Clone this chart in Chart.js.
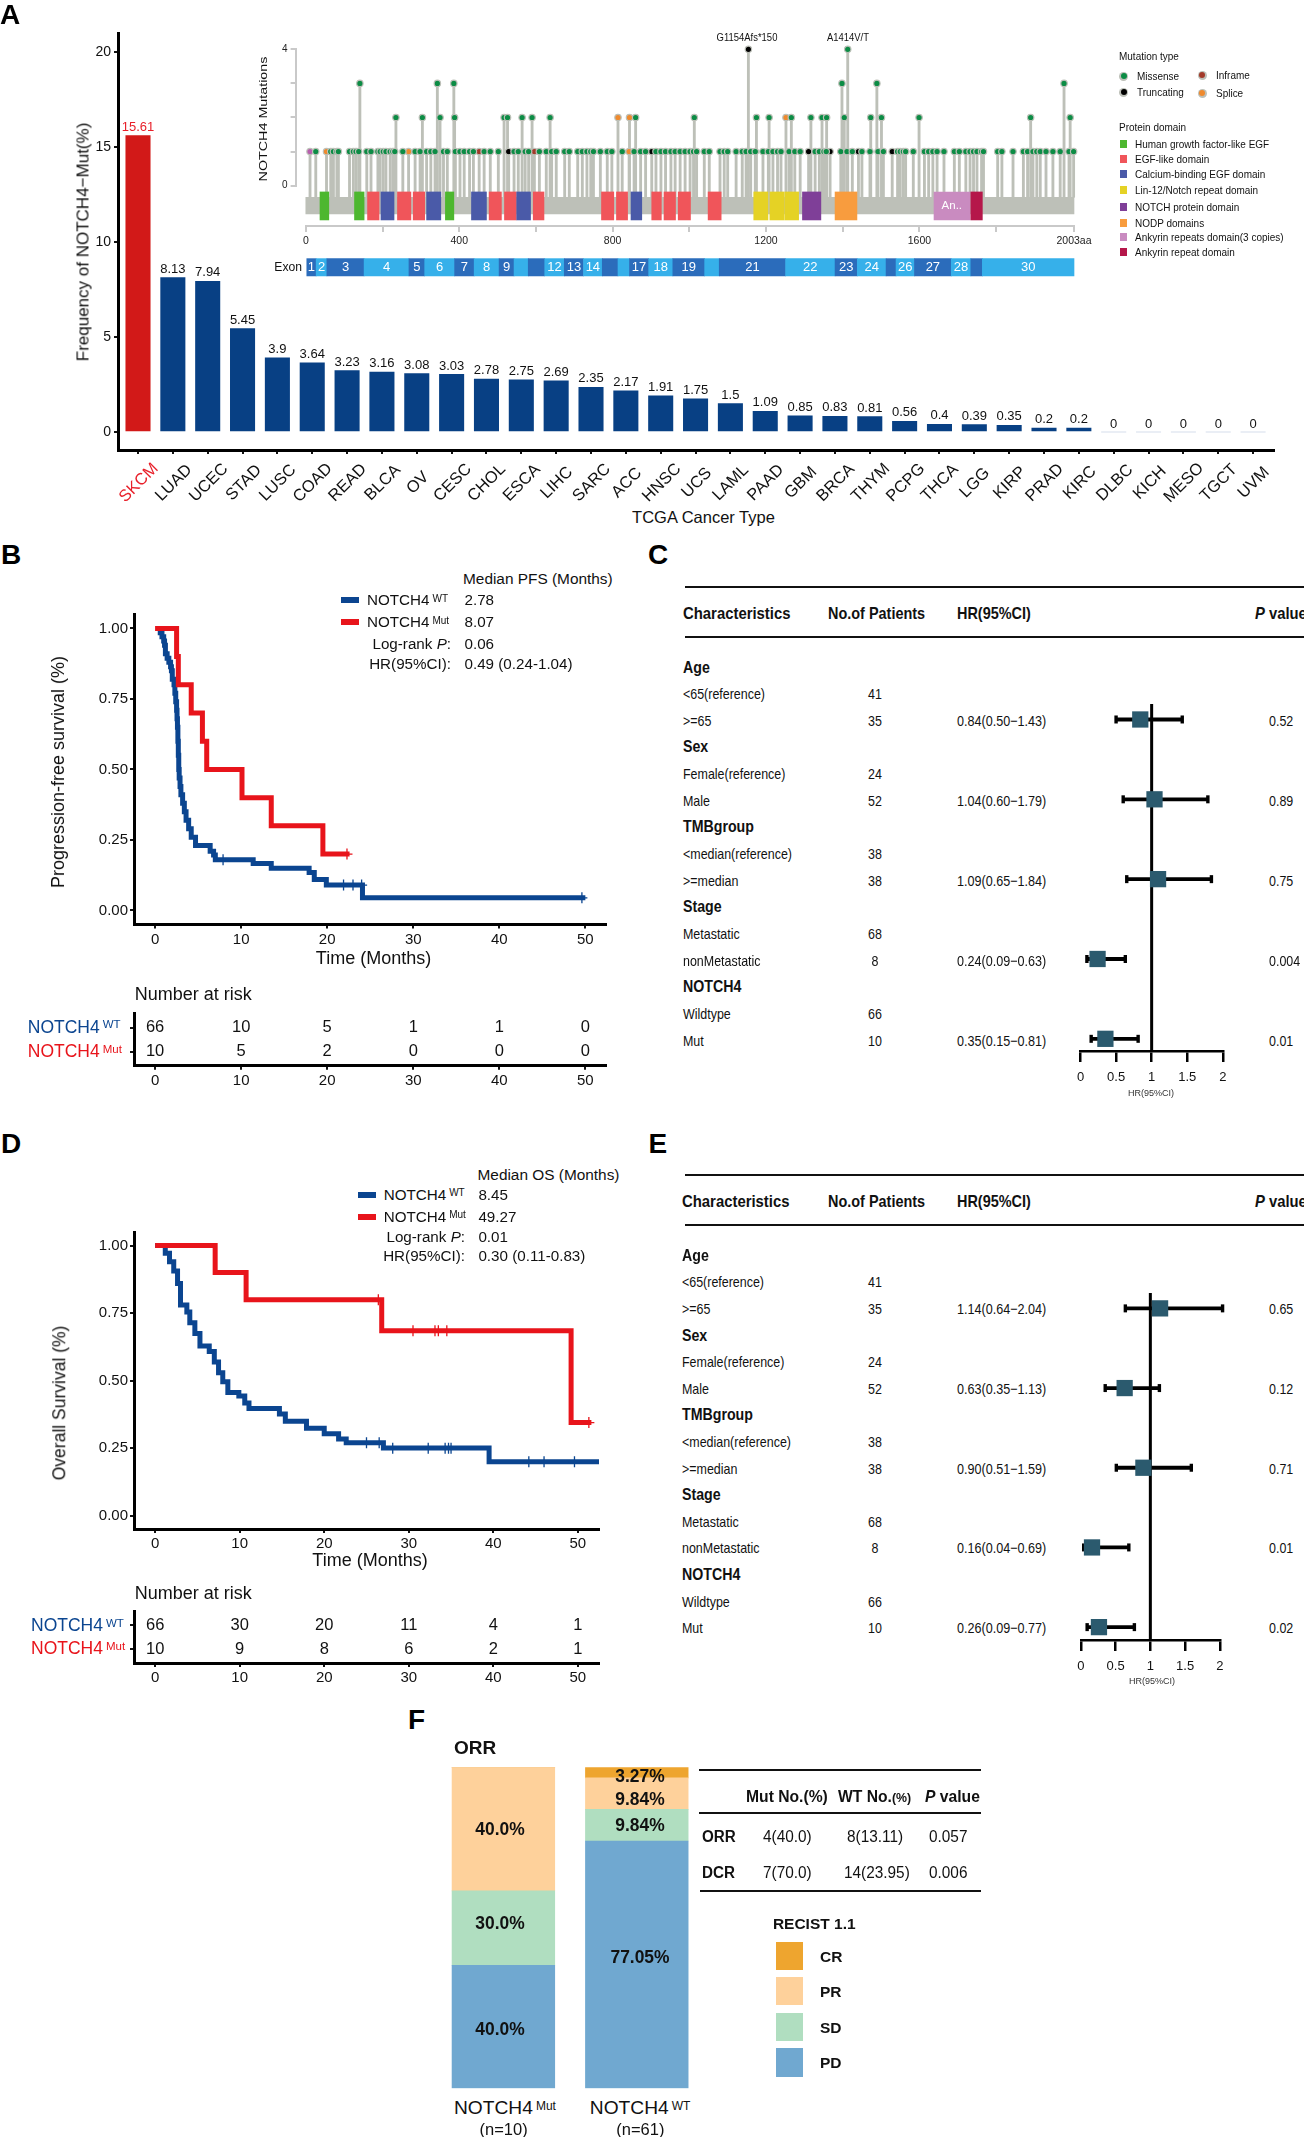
<!DOCTYPE html>
<html>
<head>
<meta charset="utf-8">
<title>NOTCH4 figure</title>
<script src="https://cdn.jsdelivr.net/npm/chart.js@4/dist/chart.umd.min.js"></script>
<style>
  html, body { margin: 0; background: #fff; }
  #page { position: relative; width: 1304px; height: 2137px; overflow: hidden; }
  #page canvas { position: absolute; }
  #page span.t { position: absolute; white-space: nowrap; line-height: 1; }
  #page div.r { position: absolute; }
</style>
</head>
<body>
<div id="page"></div>
<script>
// --- panel A: frequency bars
const cancerTypes = ['SKCM','LUAD','UCEC','STAD','LUSC','COAD','READ','BLCA','OV','CESC','CHOL','ESCA','LIHC','SARC','ACC','HNSC','UCS','LAML','PAAD','GBM','BRCA','THYM','PCPG','THCA','LGG','KIRP','PRAD','KIRC','DLBC','KICH','MESO','TGCT','UVM'];
const mutFrequency = [15.61,8.13,7.94,5.45,3.9,3.64,3.23,3.16,3.08,3.03,2.78,2.75,2.69,2.35,2.17,1.91,1.75,1.5,1.09,0.85,0.83,0.81,0.56,0.4,0.39,0.35,0.2,0.2,0,0,0,0,0];
const freqTicks = [0,5,10,15,20];

// --- panel A inset: lollipops, one list per mutation type and height
const missense1 = [26,65,72,81,85,114,124,131,138,159,170,188,194,202,209,220,227,232,253,285,298,315,326,337,359,369,390,402,413,427,437,465,481,502,543,554,572,581,609,627,641,653,
  675,687,709,721,733,743,750,768,786,798,825,856,873,886,913,926,938,952,963,976,989,1002,1011,1019,1039,1052,1080,1091,1100,1122,1138,1148,1160,1172,1192,1206,1218,1230,1239,1260,1275,1289,1328,1339,
  1351,1357,1395,1411,1425,1450,1471,1492,1506,1543,1550,1558,1564,1584,1613,1624,1635,1646,1664,1691,1704,1721,1732,1741,1750,1762,1767,1804,1815,1844,1871,1882,1896,1906,1915,1930,1948,1967,1990,2002];
const missense2 = [235,304,350,388,517,526,564,590,637,860,1013,1175,1208,1266,1317,1346,1358,1404,1473,1501,1599,1890,1993];
const missense3 = [141,343,386,1398,1489,1977];
const missense4 = [1413];
const truncatingPos = [529,902,1154,1311,1367,1441,1529];
const truncatingCount = [1,1,4,1,1,1,1];
const splicePos = [54,268,814,843,844,1252];
const spliceCount = [1,1,2,1,2,2];
const inframePos = [452,596];
const inframeCount = [1,1];
const otherPos = [11];
const otherCount = [1];
const proteinLength = 2003;
const domainStart = [37,127,161,196,239,280,315,364,432,478,518,550,593,771,810,848,902,934,971,1049,1168,1210,1249,1295,1380,1638,1734];
const domainEnd = [60,152,191,230,274,310,352,386,471,510,549,586,621,803,839,876,927,964,1003,1083,1205,1247,1285,1343,1437,1732,1764];
const domainType = ['hgf','hgf','egf','ca','egf','egf','ca','hgf','ca','egf','egf','ca','egf','egf','egf','ca','egf','egf','egf','egf','lin','lin','lin','notch','nodp','ank3','ank'];
const exonEnds = [27,55,152,269,310,388,439,504,543,580,623,674,724,773,814,844,894,957,1040,1078,1251,1380,1438,1513,1539,1587,1683,1734,1764,2003];
const exonLabels = ['1','2','3','4','5','6','7','8','9','','','12','13','14','','','17','18','19','','21','22','23','24','','26','27','28','','30'];

// --- panel B: progression-free survival
const pfsWtTime = [0.4,0.6,0.8,1.0,1.1,1.2,1.4,1.6,1.8,1.9,2.0,2.2,2.3,2.4,2.5,2.55,2.6,2.65,2.7,2.75,2.8,2.9,3.0,3.2,3.4,3.6,3.9,4.2,4.7,6.4,6.8,7.0,11.4,13.5,17.9,18.5,19.9,24.1,50];
const pfsWtSurv = [1,0.985,0.97,0.955,0.94,0.91,0.894,0.88,0.864,0.85,0.82,0.8,0.77,0.74,0.71,0.68,0.65,0.6,0.55,0.5,0.47,0.44,0.41,0.38,0.35,0.32,0.29,0.26,0.23,0.21,0.197,0.18,0.167,0.15,0.135,0.11,0.09,0.045,0.045];
const pfsWtCensorTime = [7.9,21.9,23,24,49.6];
const pfsWtCensorSurv = [0.18,0.09,0.09,0.09,0.045];
const pfsMutTime = [0,2.5,2.7,4.2,5.5,6,10.1,13.5,19.5,22.6];
const pfsMutSurv = [1,0.9,0.8,0.7,0.6,0.5,0.4,0.3,0.2,0.2];
const pfsMutCensorTime = [22.3];
const pfsMutCensorSurv = [0.2];
const pfsRiskWt = [66,10,5,1,1,0];
const pfsRiskMut = [10,5,2,0,0,0];

// --- panel D: overall survival
const osWtTime = [0,1.2,1.7,2.2,2.65,3,3.75,4.1,4.7,5.3,6.4,7,7.5,8,8.6,9.9,10.6,11.1,14.7,15.4,17.9,20,21.7,22.6,27,39.5,52.5];
const osWtSurv = [1,0.972,0.94,0.906,0.86,0.78,0.754,0.714,0.675,0.628,0.608,0.569,0.529,0.496,0.456,0.443,0.417,0.397,0.377,0.35,0.324,0.304,0.284,0.27,0.251,0.2,0.2];
const osWtCensorTime = [25,26.5,28.1,32.3,34.3,34.7,35,44.2,46,49.6];
const osWtCensorSurv = [0.27,0.27,0.25,0.25,0.25,0.25,0.25,0.2,0.2,0.2];
const osMutTime = [0,7.1,10.76,26.8,49.2,51.6];
const osMutSurv = [1,0.9,0.8,0.685,0.345,0.345];
const osMutCensorTime = [26.4,30.5,33.1,33.5,34.5,51.3];
const osMutCensorSurv = [0.8,0.685,0.685,0.685,0.685,0.345];
const osRiskWt = [66,30,20,11,4,1];
const osRiskMut = [10,9,8,6,2,1];
const riskTimes = [0,10,20,30,40,50];
const survivalTicks = [0,0.25,0.5,0.75,1];

// --- panels C and E: cox tables
const coxLabels = ['Age','<65(reference)','>=65','Sex','Female(reference)','Male','TMBgroup','<median(reference)','>=median','Stage','Metastatic','nonMetastatic','NOTCH4','Wildtype','Mut'];
const coxPatients = ['', '41', '35', '', '24', '52', '', '38', '38', '', '68', '8', '', '66', '10'];
const coxRows = [2,5,8,11,14];
const pfsHr = [0.84,1.04,1.09,0.24,0.35];
const pfsLow = [0.50,0.60,0.65,0.09,0.15];
const pfsHigh = [1.43,1.79,1.84,0.63,0.81];
const pfsP = ['0.52','0.89','0.75','0.004','0.01'];
const osHr = [1.14,0.63,0.90,0.16,0.26];
const osLow = [0.64,0.35,0.51,0.04,0.09];
const osHigh = [2.04,1.13,1.59,0.69,0.77];
const osP = ['0.65','0.12','0.71','0.01','0.02'];
const hrTicks = [0,0.5,1,1.5,2];

// --- panel F: response stacks
const recistGroups = ['NOTCH4 Mut','NOTCH4 WT'];
const recistPD = [38.3,77.05];
const recistSD = [23.2,9.84];
const recistPR = [38.5,9.84];
const recistCR = [0,3.27];

const FONT = '"Liberation Sans", Arial, sans-serif';
const BLUE = '#0b4590', RED = '#e8141b', NAVY = '#084084', GREY = '#bdc0b8', TEAL = '#2b5a6e';
const RECIST = { CR: '#eea52f', PR: '#fed19b', SD: '#b0dec0', PD: '#70a8d0' };
const DOMAIN = { hgf: '#4db72f', egf: '#f0555a', ca: '#4a5aa8', lin: '#e5d225', notch: '#7f3f98', nodp: '#f89c3e', ank3: '#c98bc0', ank: '#b5174a' };

Chart.defaults.font.family = FONT;
Chart.defaults.animation = false;
Chart.defaults.responsive = false;
Chart.defaults.plugins.legend.display = false;
Chart.defaults.plugins.tooltip.enabled = false;

const page = document.getElementById('page');

function label(x, y, html, o = {}) {
    const el = document.createElement('span');
    el.className = 't';
    el.innerHTML = html;
    const ax = o.anchor === 'middle' ? 50 : o.anchor === 'end' ? 100 : 0;
    el.style.left = x + 'px';
    el.style.top = y + 'px';
    el.style.fontFamily = FONT;
    el.style.fontSize = (o.size || 14) + 'px';
    el.style.fontWeight = o.weight || 400;
    el.style.color = o.color || '#111';
    el.style.transformOrigin = `${ax}% 50%`;
    el.style.transform = `translate(${-ax}%, -50%) rotate(${o.rotate || 0}deg) scaleX(${o.sx || 1})`;
    page.appendChild(el);
    return el;
}

function block(x, y, w, h, color, round) {
    const el = document.createElement('div');
    el.className = 'r';
    el.style.cssText = `left:${x}px;top:${y}px;width:${w}px;height:${h}px;background:${color};` + (round ? 'border-radius:50%;' : '');
    page.appendChild(el);
}

const sup = (text, size) => `<span style="font-size:${size}px;position:relative;top:${-size * 0.35}px;margin-left:3px">${text}</span>`;

// every chart gets an exact plot area; box and area are page pixels
function makeChart(box, area, config) {
    const [bx, by, bw, bh] = box;
    const [left, top, right, bottom] = area;
    const canvas = document.createElement('canvas');
    canvas.width = bw;
    canvas.height = bh;
    canvas.style.left = bx + 'px';
    canvas.style.top = by + 'px';
    page.appendChild(canvas);
    const opts = config.options;
    opts.layout = { autoPadding: false, padding: { left: 0, top: top - by, right: bx + bw - right, bottom: 0 } };
    opts.scales.x.afterFit = s => { s.height = by + bh - bottom; };
    opts.scales.y.afterFit = s => { s.width = left - bx; };
    const chart = new Chart(canvas, config);
    chart.pageX = bx;
    chart.pageY = by;
    return chart;
}

const setTicks = values => s => { s.ticks = values.map(value => ({ value })); };
const zip = (xs, ys) => xs.map((x, i) => ({ x, y: ys[i] }));

// ---------- panel A bars
const valueLabels = {
    id: 'valueLabels',
    afterDatasetsDraw(chart) {
        const ctx = chart.ctx;
        ctx.save();
        ctx.font = `13px ${FONT}`;
        ctx.textAlign = 'center';
        ctx.textBaseline = 'bottom';
        chart.getDatasetMeta(0).data.forEach((bar, i) => {
            ctx.fillStyle = i === 0 ? '#e8202a' : '#111';
            ctx.fillText(String(mutFrequency[i]), bar.x, bar.y - 2);
        });
        ctx.restore();
    }
};

const freqChart = makeChart([0, 0, 1304, 470], [118, 33.7, 1274, 450], {
    type: 'bar',
    data: {
        datasets: [{
            data: zip(cancerTypes.map((c, i) => i), mutFrequency),
            backgroundColor: mutFrequency.map((v, i) => i === 0 ? '#d21918' : v === 0 ? '#e3e9f2' : NAVY),
            barThickness: 24.4,
            minBarLength: 1
        }]
    },
    options: {
        scales: {
            x: {
                type: 'linear', min: -0.574, max: 32.6, offset: false,
                afterBuildTicks: setTicks(cancerTypes.map((c, i) => i)),
                grid: { offset: false, drawOnChartArea: false, color: '#111', lineWidth: 2, tickLength: 4 },
                border: { color: '#000', width: 3 },
                ticks: { display: false }
            },
            y: {
                min: -0.95, max: 20.98,
                afterBuildTicks: setTicks(freqTicks),
                grid: { drawOnChartArea: false, color: '#111', lineWidth: 2, tickLength: 4 },
                border: { color: '#000', width: 3 },
                ticks: { color: '#111', font: { size: 14 }, padding: 3, callback: v => String(v) }
            }
        }
    },
    plugins: [valueLabels]
});

cancerTypes.forEach((c, i) => {
    label(freqChart.scales.x.getPixelForValue(i), 482, c, { size: 16.5, anchor: 'middle', rotate: -45, color: i === 0 ? '#e8202a' : '#111' });
});
label(82.5, 242, 'Frequency of NOTCH4\u2212Mut(%)', { size: 17, anchor: 'middle', rotate: -90 });
label(703.5, 517, 'TCGA Cancer Type', { size: 16.5, anchor: 'middle' });

// ---------- panel A inset, lollipops
const STEM_BASE = -0.34;
const mutationPoints = (pos, count) => pos.map((x, i) => ({ x, y: count[i] }));
const missensePoints = [
    ...missense1.map(x => ({ x, y: 1 })),
    ...missense2.map(x => ({ x, y: 2 })),
    ...missense3.map(x => ({ x, y: 3 })),
    ...missense4.map(x => ({ x, y: 4 }))
];
const mutationSets = [
    { points: missensePoints, color: '#0c8c45' },
    { points: mutationPoints(truncatingPos, truncatingCount), color: '#000000' },
    { points: mutationPoints(splicePos, spliceCount), color: '#ef8a2e' },
    { points: mutationPoints(inframePos, inframeCount), color: '#a33a2a' },
    { points: mutationPoints(otherPos, otherCount), color: '#b85fae' }
];
const stems = mutationSets.flatMap(s => s.points).map(p => ({ x: p.x, y: [STEM_BASE, p.y] }));

makeChart([240, 40, 860, 190], [295.6, 49.3, 1074, 185.7], {
    type: 'bar',
    data: {
        datasets: [
            ...mutationSets.map(s => ({
                type: 'scatter', data: s.points, order: 1, clip: false,
                backgroundColor: s.color, borderColor: GREY, borderWidth: 1.2, pointRadius: 3.2
            })),
            { data: stems, order: 4, clip: false, grouped: false, barThickness: 2.2, backgroundColor: GREY },
            {
                indexAxis: 'y', order: 2, clip: false, grouped: false, barThickness: 28,
                data: domainStart.map((s, i) => ({ x: [s, domainEnd[i]], y: -0.594 })),
                backgroundColor: domainType.map(t => DOMAIN[t])
            },
            {
                indexAxis: 'y', order: 3, clip: false, grouped: false, barThickness: 16.7,
                data: [{ x: [0, proteinLength], y: -0.585 }], backgroundColor: GREY
            }
        ]
    },
    options: {
        scales: {
            x: { type: 'linear', min: -26.6, max: proteinLength, display: false, offset: false, grid: { offset: false } },
            y: {
                type: 'linear', min: 0, max: 4, offset: false,
                afterBuildTicks: setTicks([0, 1, 2, 3, 4]),
                grid: { offset: false, drawOnChartArea: false, color: '#c9c9c9', lineWidth: 2, tickLength: 5 },
                border: { color: '#c9c9c9', width: 2 },
                ticks: { color: '#222', font: { size: 10 }, padding: 3, callback: v => (v === 0 || v === 4) ? String(v) : '' }
            }
        }
    }
});

// inset protein ruler and exon strip
const exonText = {
    id: 'exonText',
    afterDatasetsDraw(chart) {
        const ctx = chart.ctx;
        ctx.save();
        ctx.font = `13px ${FONT}`;
        ctx.fillStyle = '#fff';
        ctx.textAlign = 'center';
        ctx.textBaseline = 'middle';
        chart.getDatasetMeta(0).data.forEach((bar, i) => {
            const c = bar.getCenterPoint();
            ctx.fillText(exonLabels[i], c.x, c.y);
        });
        ctx.restore();
    }
};
makeChart([240, 200, 860, 80], [305.8, 210, 1074, 226], {
    type: 'bar',
    data: {
        datasets: [{
            indexAxis: 'y', clip: false, barThickness: 17.3,
            data: exonEnds.map((end, i) => ({ x: [i === 0 ? 0 : exonEnds[i - 1], end], y: -2.58 })),
            backgroundColor: exonEnds.map((e, i) => i % 2 === 0 ? '#2b6cbb' : '#36b0ea')
        }]
    },
    options: {
        scales: {
            x: {
                type: 'linear', min: 0, max: proteinLength, offset: false,
                afterBuildTicks: setTicks([0, 200, 400, 600, 800, 1000, 1200, 1400, 1600, 1800, 2003]),
                grid: { offset: false, drawOnChartArea: false, color: '#c9c9c9', lineWidth: 2, tickLength: 6 },
                border: { color: '#c9c9c9', width: 2 },
                ticks: {
                    color: '#222', font: { size: 10.5 }, padding: 3, maxRotation: 0, autoSkip: false,
                    callback: v => v === proteinLength ? '2003aa' : ([0, 400, 800, 1200, 1600].includes(v) ? String(v) : '')
                }
            },
            y: { type: 'linear', min: 0, max: 1, display: false, offset: false, grid: { offset: false } }
        }
    },
    plugins: [exonText]
});

label(262.5, 119, 'NOTCH4 Mutations', { size: 11, anchor: 'middle', rotate: -90, sx: 1.3 });
label(747, 36.7, 'G1154Afs*150', { size: 10.5, anchor: 'middle', sx: 0.9 });
label(847.7, 36.7, 'A1414V/T', { size: 10.5, anchor: 'middle', sx: 0.9 });
label(301.5, 266.7, 'Exon', { size: 13.5, anchor: 'end', sx: 0.9 });
label(951.8, 206, 'An..', { size: 11.5, anchor: 'middle', color: '#fff' });

label(1119, 56, 'Mutation type', { size: 10.5, sx: 0.95 });
[[1123.5, 76, 1137, 'Missense', '#0c8c45'], [1202, 75, 1216, 'Inframe', '#a33a2a'], [1123.5, 92, 1137, 'Truncating', '#000'], [1202, 93, 1216, 'Splice', '#ef8a2e']].forEach(([dx, y, tx, name, color]) => {
    block(dx - 4.5, y - 4.5, 9, 9, GREY, true);
    block(dx - 3, y - 3, 6, 6, color, true);
    label(tx, y, name, { size: 10.5, sx: 0.95 });
});
label(1119, 127, 'Protein domain', { size: 10.5, sx: 0.95 });
[['Human growth factor-like EGF', 'hgf', 144], ['EGF-like domain', 'egf', 159], ['Calcium-binding EGF domain', 'ca', 174], ['Lin-12/Notch repeat domain', 'lin', 190],
 ['NOTCH protein domain', 'notch', 207], ['NODP domains', 'nodp', 223], ['Ankyrin repeats domain(3 copies)', 'ank3', 237], ['Ankyrin repeat domain', 'ank', 252]].forEach(([name, kind, y]) => {
    block(1120, y - 4, 7, 8, DOMAIN[kind]);
    label(1135, y, name, { size: 10.5, sx: 0.95 });
});

// ---------- survival panels
function survivalChart(box, area, xRange, yRange, wt, mut) {
    return makeChart(box, area, {
        type: 'line',
        data: {
            datasets: [
                { data: zip(wt.time, wt.surv), stepped: true, borderColor: BLUE, borderWidth: 5, pointRadius: 0, order: 3, clip: false },
                { type: 'scatter', data: zip(wt.censorTime, wt.censorSurv), pointStyle: 'cross', pointRadius: 5.5, borderWidth: 1.3, borderColor: BLUE, order: 2, clip: false },
                { data: zip(mut.time, mut.surv), stepped: true, borderColor: RED, borderWidth: 5, pointRadius: 0, order: 1, clip: false },
                { type: 'scatter', data: zip(mut.censorTime, mut.censorSurv), pointStyle: 'cross', pointRadius: 5.5, borderWidth: 1.3, borderColor: RED, order: 0, clip: false }
            ]
        },
        options: {
            scales: {
                x: {
                    type: 'linear', min: xRange[0], max: xRange[1],
                    afterBuildTicks: setTicks(riskTimes),
                    grid: { drawOnChartArea: false, color: '#111', lineWidth: 2, tickLength: 4 },
                    border: { color: '#000', width: 3 },
                    ticks: { color: '#111', font: { size: 15 }, padding: 2, maxRotation: 0, callback: v => String(v) }
                },
                y: {
                    min: yRange[0], max: yRange[1],
                    afterBuildTicks: setTicks(survivalTicks),
                    grid: { drawOnChartArea: false, color: '#111', lineWidth: 2, tickLength: 4 },
                    border: { color: '#000', width: 3 },
                    ticks: { color: '#111', font: { size: 15 }, padding: 2, callback: v => v.toFixed(2) }
                }
            }
        }
    });
}

function riskChart(box, area, xRange, yRange, wtRisk, mutRisk) {
    const riskText = {
        id: 'riskText',
        afterDatasetsDraw(chart) {
            const ctx = chart.ctx;
            ctx.save();
            ctx.font = `16.5px ${FONT}`;
            ctx.fillStyle = '#111';
            ctx.textAlign = 'center';
            ctx.textBaseline = 'middle';
            chart.data.datasets.forEach(ds => ds.data.forEach(p => {
                ctx.fillText(String(p.n), chart.scales.x.getPixelForValue(p.x), chart.scales.y.getPixelForValue(p.y));
            }));
            ctx.restore();
        }
    };
    return makeChart(box, area, {
        type: 'scatter',
        data: {
            datasets: [
                { data: riskTimes.map((t, i) => ({ x: t, y: 1, n: wtRisk[i] })), pointRadius: 0 },
                { data: riskTimes.map((t, i) => ({ x: t, y: 0, n: mutRisk[i] })), pointRadius: 0 }
            ]
        },
        options: {
            scales: {
                x: {
                    type: 'linear', min: xRange[0], max: xRange[1],
                    afterBuildTicks: setTicks(riskTimes),
                    grid: { drawOnChartArea: false, color: '#111', lineWidth: 2, tickLength: 4 },
                    border: { color: '#000', width: 3 },
                    ticks: { color: '#111', font: { size: 15 }, padding: 2, maxRotation: 0, callback: v => String(v) }
                },
                y: {
                    min: yRange[0], max: yRange[1],
                    afterBuildTicks: setTicks([0, 1]),
                    grid: { drawOnChartArea: false, color: '#111', lineWidth: 2, tickLength: 4 },
                    border: { color: '#000', width: 3 },
                    ticks: { display: false }
                }
            }
        },
        plugins: [riskText]
    });
}

// panel B
survivalChart([0, 600, 640, 360], [134, 614.3, 606, 924.6], [-2.45, 52.4], [-0.05, 1.05],
    { time: pfsWtTime, surv: pfsWtSurv, censorTime: pfsWtCensorTime, censorSurv: pfsWtCensorSurv },
    { time: pfsMutTime, surv: pfsMutSurv, censorTime: pfsMutCensorTime, censorSurv: pfsMutCensorSurv });
riskChart([0, 1000, 640, 100], [134, 1013, 606, 1065.7], [-2.45, 52.4], [-0.58, 1.6], pfsRiskWt, pfsRiskMut);
label(58, 772, 'Progression-free survival (%)', { size: 18, anchor: 'middle', rotate: -90 });
label(373.5, 958, 'Time (Months)', { size: 18, anchor: 'middle' });
label(134.7, 993.6, 'Number at risk', { size: 18 });
label(463, 578.6, 'Median PFS (Months)', { size: 15.4 });
block(341, 597, 18, 5.5, BLUE);
block(341, 619.2, 18, 5.5, RED);
label(367, 600, 'NOTCH4' + sup('WT', 10), { size: 15.2 });
label(367, 622, 'NOTCH4' + sup('Mut', 10), { size: 15.2 });
label(464.5, 600, '2.78', { size: 15.2 });
label(464.5, 622, '8.07', { size: 15.2 });
label(451, 643.6, 'Log-rank <i>P</i>:', { size: 15.2, anchor: 'end' });
label(464.5, 643.6, '0.06', { size: 15.2 });
label(451, 664, 'HR(95%CI):', { size: 15.2, anchor: 'end' });
label(464.5, 664, '0.49 (0.24-1.04)', { size: 15.2 });
label(27.8, 1027.5, 'NOTCH4' + sup('WT', 11.5), { size: 17.5, color: BLUE });
label(27.8, 1051.8, 'NOTCH4' + sup('Mut', 11.5), { size: 17.5, color: RED });

// panel D
survivalChart([0, 1220, 640, 340], [134, 1232.9, 599, 1529], [-2.5, 52.5], [-0.049, 1.047],
    { time: osWtTime, surv: osWtSurv, censorTime: osWtCensorTime, censorSurv: osWtCensorSurv },
    { time: osMutTime, surv: osMutSurv, censorTime: osMutCensorTime, censorSurv: osMutCensorSurv });
riskChart([0, 1600, 640, 100], [134, 1611, 599, 1663], [-2.5, 52.5], [-0.57, 1.6], osRiskWt, osRiskMut);
label(60.4, 1403, 'Overall Survival (%)', { size: 17.5, anchor: 'middle', rotate: -90 });
label(370, 1560, 'Time (Months)', { size: 18, anchor: 'middle' });
label(134.7, 1593, 'Number at risk', { size: 18 });
label(477.5, 1175, 'Median OS (Months)', { size: 15.4 });
block(357.5, 1192, 18, 5.5, BLUE);
block(357.5, 1214, 18, 5.5, RED);
label(383.7, 1194.6, 'NOTCH4' + sup('WT', 10), { size: 15.2 });
label(383.7, 1216.8, 'NOTCH4' + sup('Mut', 10), { size: 15.2 });
label(478.4, 1194.6, '8.45', { size: 15.2 });
label(478.4, 1216.8, '49.27', { size: 15.2 });
label(465, 1237, 'Log-rank <i>P</i>:', { size: 15.2, anchor: 'end' });
label(478.4, 1237, '0.01', { size: 15.2 });
label(465, 1256.4, 'HR(95%CI):', { size: 15.2, anchor: 'end' });
label(478.4, 1256.4, '0.30 (0.11-0.83)', { size: 15.2 });
label(31, 1625.7, 'NOTCH4' + sup('WT', 11.5), { size: 17.5, color: BLUE });
label(31, 1649, 'NOTCH4' + sup('Mut', 11.5), { size: 17.5, color: RED });

// ---------- cox tables
function coxPanel(g, hr, low, high, pValues) {
    const rowY = i => g.firstRow + g.rowStep * i;
    block(684.5, g.rule1 - 1, 619.5, 2.4, '#111');
    block(684.5, g.rule2 - 1, 619.5, 2.4, '#111');
    label(g.textX, g.header, 'Characteristics', { size: 17, weight: 700, sx: 0.875 });
    label(827.6, g.header, 'No.of Patients', { size: 17, weight: 700, sx: 0.85 });
    label(957.2, g.header, 'HR(95%CI)', { size: 17, weight: 700, sx: 0.85 });
    label(1255, g.header, '<i>P</i> value', { size: 17, weight: 700, sx: 0.87 });
    coxLabels.forEach((name, i) => {
        const bold = coxPatients[i] === '';
        label(g.textX, rowY(i), name.replace('<', '&lt;'), bold ? { size: 16.5, weight: 700, sx: 0.86 } : { size: 15, sx: 0.83 });
        if (!bold) label(875, rowY(i), coxPatients[i], { size: 15, anchor: 'middle', sx: 0.83 });
    });
    coxRows.forEach((row, i) => {
        label(957.2, rowY(row), `${hr[i].toFixed(2)}(${low[i].toFixed(2)}\u2212${high[i].toFixed(2)})`, { size: 15, sx: 0.84 });
        label(g.pX, rowY(row), pValues[i], { size: 15, sx: 0.83 });
    });
    const yMin = (g.top - g.firstRow) / g.rowStep;
    const yMax = (g.axis - g.firstRow) / g.rowStep;
    makeChart([1060, g.top - 10, 190, g.axis - g.top + 50], [g.x0, g.top, g.x2, g.axis], {
        type: 'bar',
        data: {
            datasets: [
                { type: 'scatter', data: zip(hr, coxRows), pointStyle: 'rect', pointRadius: 11.5, backgroundColor: TEAL, borderWidth: 0, order: 0, clip: false },
                { type: 'scatter', data: zip(low.concat(high), coxRows.concat(coxRows)), pointStyle: 'line', rotation: 90, pointRadius: 4, borderWidth: 3.4, borderColor: '#000', order: 2, clip: false },
                { indexAxis: 'y', grouped: false, data: coxRows.map((r, i) => ({ x: [low[i], high[i]], y: r })), barThickness: 3.2, backgroundColor: '#000', order: 3, clip: false },
                { type: 'line', data: [{ x: 1, y: yMin }, { x: 1, y: yMax }], borderColor: '#000', borderWidth: 3, pointRadius: 0, order: 1, clip: false }
            ]
        },
        options: {
            scales: {
                x: {
                    type: 'linear', min: 0, max: 2, offset: false,
                    afterBuildTicks: setTicks(hrTicks),
                    grid: { offset: false, drawOnChartArea: false, color: '#000', lineWidth: 2.5, tickLength: 11 },
                    border: { color: '#000', width: 2.5 },
                    ticks: { color: '#111', font: { size: 13 }, padding: 8, maxRotation: 0, callback: v => String(v) }
                },
                y: { type: 'linear', min: yMin, max: yMax, reverse: true, display: false, offset: false, grid: { offset: false } }
            }
        }
    });
    label(g.titleX, g.title, 'HR(95%CI)', { size: 9.5, anchor: 'middle', color: '#333', sx: 0.95 });
}

coxPanel({ rule1: 586.5, rule2: 637, header: 613, textX: 682.8, pX: 1268.5, firstRow: 666.5, rowStep: 26.65, top: 704.3, axis: 1051.8, x0: 1080.5, x2: 1222.8, titleX: 1151, title: 1093 }, pfsHr, pfsLow, pfsHigh, pfsP);
coxPanel({ rule1: 1174.7, rule2: 1224.9, header: 1200.9, textX: 682.4, pX: 1269.4, firstRow: 1254.7, rowStep: 26.6, top: 1292.5, axis: 1640, x0: 1080.9, x2: 1219.8, titleX: 1151.6, title: 1681 }, osHr, osLow, osHigh, osP);

// ---------- panel F
makeChart([430, 1760, 280, 335], [436.7, 1767.3, 703.5, 2088.3], {
    type: 'bar',
    data: {
        labels: recistGroups,
        datasets: [
            { label: 'PD', data: recistPD, backgroundColor: RECIST.PD },
            { label: 'SD', data: recistSD, backgroundColor: RECIST.SD },
            { label: 'PR', data: recistPR, backgroundColor: RECIST.PR },
            { label: 'CR', data: recistCR, backgroundColor: RECIST.CR }
        ]
    },
    options: {
        datasets: { bar: { barThickness: 102.7 } },
        scales: {
            x: { stacked: true, display: false },
            y: { stacked: true, min: 0, max: 100, display: false }
        }
    }
});
[[500.4, 1829.3, '40.0%'], [500.4, 1923, '30.0%'], [500.4, 2029, '40.0%'], [639.6, 1776, '3.27%'], [639.6, 1799, '9.84%'], [639.6, 1825, '9.84%'], [639.6, 1956.7, '77.05%']].forEach(([x, y, text]) => {
    label(x, y, text, { size: 18.5, weight: 700, anchor: 'middle', sx: 0.94 });
});
label(454, 1747, 'ORR', { size: 19, weight: 700 });
label(454, 2108, 'NOTCH4' + sup('Mut', 12), { size: 19.2 });
label(589.8, 2108, 'NOTCH4' + sup('WT', 12), { size: 19.2 });
label(503.6, 2129.3, '(n=10)', { size: 16.5, anchor: 'middle' });
label(640.4, 2129.3, '(n=61)', { size: 16.5, anchor: 'middle' });

block(699.3, 1769, 282, 2.4, '#111');
block(699.3, 1812, 282, 2.4, '#111');
block(700, 1889.6, 281, 2.4, '#111');
label(746.4, 1795.7, 'Mut No.(%)', { size: 16.5, weight: 700, sx: 0.95 });
label(837.7, 1795.7, 'WT No.<span style="font-size:13px">(%)</span>', { size: 16.5, weight: 700, sx: 0.95 });
label(925, 1795.7, '<i>P</i> value', { size: 16.5, weight: 700, sx: 0.95 });
label(702, 1837.3, 'ORR', { size: 16, weight: 700, sx: 0.95 });
label(702, 1872.7, 'DCR', { size: 16, weight: 700, sx: 0.95 });
label(763, 1837.3, '4(40.0)', { size: 16, sx: 0.96 });
label(763, 1872.7, '7(70.0)', { size: 16, sx: 0.96 });
label(846.8, 1837.3, '8(13.11)', { size: 16, sx: 0.96 });
label(843.6, 1872.7, '14(23.95)', { size: 16, sx: 0.96 });
label(929, 1837.3, '0.057', { size: 16, sx: 0.96 });
label(929, 1872.7, '0.006', { size: 16, sx: 0.96 });
label(772.9, 1924, 'RECIST 1.1', { size: 15.5, weight: 700 });
[['CR', 1941.7, 1956.7], ['PR', 1976.7, 1992.3], ['SD', 2012.7, 2027.7], ['PD', 2048.3, 2063.3]].forEach(([name, top, y]) => {
    block(775.6, top, 27.7, 28.5, RECIST[name]);
    label(820, y, name, { size: 15.5, weight: 700 });
});

// panel letters
[['A', 0, 14.5], ['B', 1, 555], ['C', 648, 555], ['D', 1, 1143.6], ['E', 648.5, 1143.8], ['F', 408, 1720]].forEach(([name, x, y]) => {
    label(x, y, name, { size: 28, weight: 700, color: '#000' });
});
</script>
</body>
</html>
